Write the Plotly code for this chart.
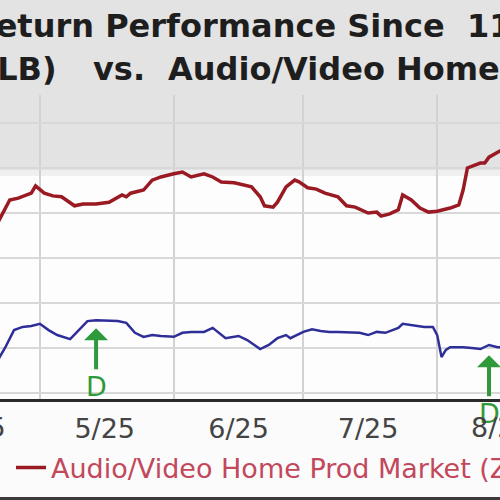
import pandas as pd
import plotly.graph_objects as go

# ---------------- data ----------------
red_name = "Audio/Video Home Prod Market (Zacks)"
red_dates = ["2025-04-21","2025-04-24","2025-04-26","2025-04-29","2025-04-30","2025-05-02","2025-05-04",
             "2025-05-06","2025-05-09","2025-05-11","2025-05-14","2025-05-17","2025-05-20","2025-05-21",
             "2025-05-22","2025-05-25","2025-05-27","2025-05-29","2025-06-01","2025-06-03","2025-06-05",
             "2025-06-08","2025-06-10","2025-06-12","2025-06-15","2025-06-17","2025-06-19","2025-06-21",
             "2025-06-22","2025-06-24","2025-06-25","2025-06-27","2025-06-29","2025-06-30","2025-07-02",
             "2025-07-04","2025-07-06","2025-07-09","2025-07-11","2025-07-13","2025-07-16","2025-07-18",
             "2025-07-19","2025-07-21","2025-07-23","2025-07-24","2025-07-26","2025-07-28","2025-07-30",
             "2025-08-01","2025-08-04","2025-08-06","2025-08-07","2025-08-08","2025-08-11","2025-08-12",
             "2025-08-13","2025-08-15","2025-08-16"]
red_values = [-2.6, 2.9, 3.3, 4.4, 6.0, 4.4, 3.8, 3.6, 1.6, 2.0, 2.0, 2.4, 4.0, 3.6, 4.4, 5.1, 7.3, 8.0,
              8.7, 9.1, 8.0, 8.7, 8.0, 6.9, 6.7, 6.2, 5.8, 3.6, 1.6, 1.3, 2.4, 5.8, 7.3, 6.9, 5.6, 5.3,
              4.4, 3.6, 1.6, 1.3, 0.0, 0.2, -0.7, -0.2, 0.7, 4.0, 2.9, 1.1, 0.2, 0.4, 1.1, 1.8, 5.1,
              10.0, 11.1, 11.1, 12.4, 13.5, 14.0]

blue_name = "Dolby Laboratories (DLB)"
blue_dates = ["2025-04-21","2025-04-23","2025-04-25","2025-04-27","2025-04-29","2025-05-01","2025-05-03",
              "2025-05-05","2025-05-08","2025-05-10","2025-05-12","2025-05-14","2025-05-17","2025-05-19",
              "2025-05-21","2025-05-23","2025-05-25","2025-05-27","2025-05-29","2025-06-01","2025-06-03",
              "2025-06-05","2025-06-08","2025-06-10","2025-06-13","2025-06-16","2025-06-18","2025-06-21",
              "2025-06-23","2025-06-25","2025-06-27","2025-06-28","2025-07-01","2025-07-03","2025-07-05",
              "2025-07-07","2025-07-09","2025-07-12","2025-07-14","2025-07-16","2025-07-18","2025-07-20",
              "2025-07-23","2025-07-24","2025-07-26","2025-07-29","2025-07-31","2025-08-01","2025-08-02",
              "2025-08-03","2025-08-04","2025-08-07","2025-08-09","2025-08-11","2025-08-13","2025-08-15",
              "2025-08-16"]
blue_values = [-33.1, -29.8, -26.0, -25.3, -25.1, -24.6, -26.0, -27.1, -28.0, -26.0,
               -24.0, -23.8, -24.0, -24.0, -24.4, -26.6, -27.5, -27.1, -27.3, -27.5,
               -26.6, -26.4, -26.4, -25.5, -27.8, -27.3, -28.2, -30.2, -29.3, -27.8,
               -27.1, -27.8, -26.4, -25.8, -26.2, -26.4, -26.4, -26.6, -26.6, -27.1,
               -26.4, -26.6, -25.5, -24.6, -24.9, -25.3, -25.3, -27.1, -32.0, -30.4,
               -29.8, -29.8, -30.0, -30.2, -29.3, -29.8, -29.8]

div_dates = ["2025-05-14", "2025-08-13"]
div_values = [-25.6, -31.6]
div_label = "D"

tick_dates = ["2025-04-16", "2025-05-16", "2025-06-16", "2025-07-16", "2025-08-16"]
tick_labels = ["4/25", "5/25", "6/25", "7/25", "8/25"]
y_grid = [-40, -30, -20, -10, 0, 10, 20]

title_line1 = "Return Performance Since\u00a0\u00a011/"
title_line2_parts = ["(DLB)", "vs.", "Audio/Video Home Prod Market"]

# ---------------- styling ----------------
X0 = pd.Timestamp("2025-04-21 18:00")
X1 = pd.Timestamp("2025-08-15 13:00")
Y0, Y1 = -41.3, 26.2
M_T, M_B = 95, 101
PLOT_H = 500 - M_T - M_B

def py(px):
    """paper y fraction for a pixel row"""
    return (500 - M_B - px) / PLOT_H

def pxf(px):
    return px / 500.0

RED = "#9a1a24"
BLUE = "#2e2e98"
GREEN = "#2f9a3a"
FONT = "DejaVu Sans"

fig = go.Figure()
fig.add_trace(go.Scatter(x=blue_dates, y=blue_values, mode="lines", name=blue_name,
                         line=dict(color=BLUE, width=2.5), showlegend=False))
fig.add_trace(go.Scatter(x=red_dates, y=red_values, mode="lines", name=red_name,
                         line=dict(color=RED, width=3.5), showlegend=True))

annotations = []
# title (cropped at edges)
annotations.append(dict(text=title_line1, xref="paper", yref="paper", x=pxf(-31), y=py(26),
                        xanchor="left", yanchor="middle", showarrow=False,
                        font=dict(family=FONT, size=32, color="#1e1e1e", weight="bold")))
for part, xpx in zip(title_line2_parts, [-46, 91, 166]):
    annotations.append(dict(text=part, xref="paper", yref="paper", x=pxf(xpx), y=py(69),
                            xanchor="left", yanchor="middle", showarrow=False,
                            font=dict(family=FONT, size=32, color="#1e1e1e", weight="bold")))

# dividend markers
for d, v in zip(div_dates, div_values):
    annotations.append(dict(x=d, y=v, xref="x", yref="y", text=div_label, showarrow=True,
                            arrowhead=1, arrowsize=1, arrowwidth=4, arrowcolor=GREEN,
                            ax=0, ay=58, font=dict(family=FONT, size=27, color=GREEN)))

# month labels that fall just outside the visible range (partially cut at the edges)
span = (X1 - X0)
for d, lab in zip(tick_dates, tick_labels):
    t = pd.Timestamp(d)
    if t < X0 or t > X1:
        frac = (t - X0) / span
        annotations.append(dict(text=lab, xref="paper", yref="paper", x=frac, y=py(427),
                                xanchor="center", yanchor="middle", showarrow=False,
                                font=dict(family=FONT, size=27, color="#444444")))

shapes = [
    dict(type="rect", xref="paper", yref="paper", x0=-0.01, x1=1.01, y0=py(170), y1=py(-5),
         fillcolor="#e3e3e3", line=dict(width=0), layer="below"),
    dict(type="rect", xref="paper", yref="paper", x0=-0.01, x1=1.01, y0=py(176), y1=py(170),
         fillcolor="#efefef", line=dict(width=0), layer="below"),
    dict(type="rect", xref="paper", yref="paper", x0=-0.01, x1=1.01, y0=py(501), y1=py(497),
         fillcolor="#3a3a3a", line=dict(width=0), layer="above"),
]

fig.update_layout(
    width=500, height=500,
    margin=dict(l=0, r=0, t=M_T, b=M_B, pad=0, autoexpand=False),
    paper_bgcolor="#fbfbfb", plot_bgcolor="#fdfdfd",
    font=dict(family=FONT, size=27, color="#444444"),
    showlegend=True,
    legend=dict(orientation="h", x=0.022, xanchor="left", y=py(468), yanchor="middle",
                font=dict(family=FONT, size=27, color="#c2485c"), bgcolor="rgba(0,0,0,0)",
                itemwidth=30),
    annotations=annotations,
    shapes=shapes,
    xaxis=dict(type="date", range=[X0, X1], tickvals=tick_dates, ticktext=tick_labels,
               showgrid=False, ticks="", ticklabelstandoff=4,
               tickfont=dict(family=FONT, size=27, color="#444444"),
               showline=True, linecolor="#2a2a2a", linewidth=3, zeroline=False,
               minor=dict(dtick="M1", tick0="2025-05-01", showgrid=True,
                          gridcolor="#d2d2d2", gridwidth=2, ticks="")),
    yaxis=dict(range=[Y0, Y1], tickvals=y_grid, showticklabels=False, showgrid=True,
               gridcolor="#d8d8d8", gridwidth=2, zeroline=False, showline=False, ticks=""),
)

fig.write_html("out.html", config={"displayModeBar": False},
               post_script="document.body.style.margin='0';document.body.style.overflow='hidden';")
